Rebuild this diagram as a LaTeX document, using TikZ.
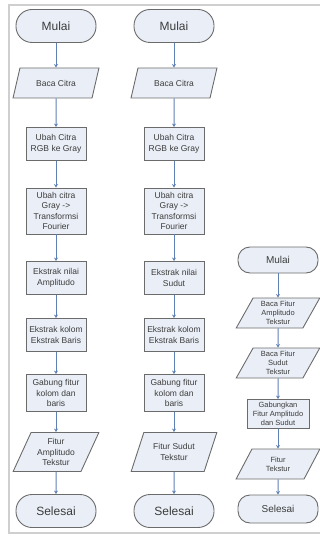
\documentclass[tikz,border=0pt]{standalone}
\usepackage{fontspec}
\setmainfont{Liberation Sans}
\usetikzlibrary{arrows.meta,shapes.geometric}
\definecolor{boxfill}{HTML}{EAEFF7}
\definecolor{boxline}{HTML}{6B6B6B}
\definecolor{flowblue}{HTML}{5F80B4}
\definecolor{txtgray}{HTML}{3C3C3C}
\definecolor{framegray}{HTML}{CFCFCF}

\begin{document}
\begin{tikzpicture}[x=1pt,y=-1pt,>={Stealth[length=3.5pt,width=4pt]},
  base/.style={draw=boxline, fill=boxfill, line width=0.9pt, text=txtgray, align=center, inner sep=1pt},
  terminal/.style={base, rounded corners=16pt, minimum width=80pt, minimum height=33pt, font=\fontsize{12}{14}\selectfont},
  smallterm/.style={terminal, rounded corners=12pt, minimum height=26pt, font=\fontsize{10}{12}\selectfont},
  io/.style={base, trapezium, trapezium left angle=64, trapezium right angle=116, trapezium stretches=true,
    minimum width=86pt, minimum height=30pt, font=\fontsize{8.5}{10.5}\selectfont},
  smallio/.style={io, minimum width=84pt, font=\fontsize{7.5}{8.8}\selectfont},
  process/.style={base, minimum width=60pt, minimum height=33pt, font=\fontsize{8.5}{10.5}\selectfont},
  flow/.style={->, flowblue, line width=1pt}]
  \useasboundingbox (0,0) rectangle (320,537);
  % frame
  \draw[framegray, line width=1.2pt] (320,5) -- (9,5) -- (9,533) -- (320,533);
  % amplitudo
  \node[terminal] (mulaiA) at (56,26) {Mulai};
  \node[io] (bacaA) at (56,83) {Baca Citra};
  \node[process] (grayA) at (56,144) {Ubah Citra\\RGB ke Gray};
  \node[process, minimum height=46pt] (fourierA) at (56,211) {Ubah citra\\Gray ->\\Transformsi\\Fourier};
  \node[process] (nilaiA) at (56,278) {Ekstrak nilai\\Amplitudo};
  \node[process] (kolomA) at (56,335) {Ekstrak kolom\\Ekstrak Baris};
  \node[process, minimum height=37pt] (gabungA) at (56,393) {Gabung fitur\\kolom dan\\baris};
  \node[io, minimum height=39pt] (fiturA) at (56,452) {Fitur\\Amplitudo\\Tekstur};
  \node[terminal] (selesaiA) at (56,511) {Selesai};
  % sudut
  \node[terminal] (mulaiB) at (174,26) {Mulai};
  \node[io] (bacaB) at (174,83) {Baca Citra};
  \node[process] (grayB) at (174,144) {Ubah Citra\\RGB ke Gray};
  \node[process, minimum height=46pt] (fourierB) at (174,211) {Ubah citra\\Gray ->\\Transformsi\\Fourier};
  \node[process] (nilaiB) at (174,278) {Ekstrak nilai\\Sudut};
  \node[process] (kolomB) at (174,335) {Ekstrak kolom\\Ekstrak Baris};
  \node[process, minimum height=37pt] (gabungB) at (174,393) {Gabung fitur\\kolom dan\\baris};
  \node[io, minimum height=39pt] (fiturB) at (174,452) {Fitur Sudut\\Tekstur};
  \node[terminal] (selesaiB) at (174,511) {Selesai};
  % gabungan
  \node[smallterm] (mulaiC) at (278,260) {Mulai};
  \node[smallio] (bacaAmp) at (278,313) {Baca Fitur\\Amplitudo\\Tekstur};
  \node[smallio] (bacaSdt) at (278,363) {Baca Fitur\\Sudut\\Tekstur};
  \node[process, minimum width=62pt, minimum height=29pt, font=\fontsize{7.5}{8.8}\selectfont] (gabungC) at (278,414) {Gabungkan\\Fitur Amplitudo\\dan Sudut};
  \node[smallio] (fiturC) at (278,464) {Fitur\\Tekstur};
  \node[smallterm, minimum height=28pt] (selesaiC) at (278,509) {Selesai};
  % arrows
  \foreach \col in {A,B}
    \foreach \a/\b in {mulai/baca, baca/gray, gray/fourier, fourier/nilai, nilai/kolom, kolom/gabung, gabung/fitur, fitur/selesai}
      \draw[flow] (\a\col) -- (\b\col);
  \foreach \a/\b in {mulaiC/bacaAmp, bacaAmp/bacaSdt, bacaSdt/gabungC, gabungC/fiturC, fiturC/selesaiC}
    \draw[flow] (\a) -- (\b);
\end{tikzpicture}
\end{document}
